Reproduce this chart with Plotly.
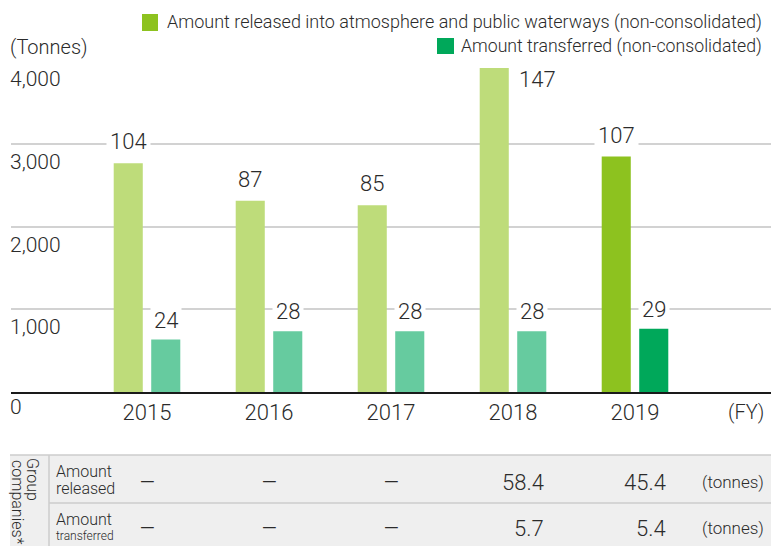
import plotly.graph_objects as go

# ---------------- data ----------------
years = ["2015", "2016", "2017", "2018", "2019"]
released_height = [2765, 2312, 2257, 3915, 2845]
transferred_height = [634, 735, 735, 735, 763]
released_labels = ["104", "87", "85", "147", "107"]
transferred_labels = ["24", "28", "28", "28", "29"]
y_ticks = [0, 1000, 2000, 3000, 4000]
y_tick_text = ["0", "1,000", "2,000", "3,000", "4,000"]
group_released = [None, None, None, "58.4", "45.4"]
group_transferred = [None, None, None, "5.7", "5.4"]

legend_released = "Amount released into atmosphere and public waterways (non-consolidated)"
legend_transferred = "Amount transferred (non-consolidated)"

# ---------------- style ----------------
W, H = 773, 546
L, R, T, B = 11, 771, 61, 392
FONT = "Roboto"
TXT = "#2b2b2b"
WT = 300
c_rel_old, c_rel_new = "#bedc7a", "#8dc21f"
c_tr_old, c_tr_new = "#66cb9f", "#00a85a"
rel_colors = [c_rel_old] * 4 + [c_rel_new]
tr_colors = [c_tr_old] * 4 + [c_tr_new]


def px(p):
    return (p - L) / (R - L)


def py(p):
    return (B - p) / (B - T)


def f(size):
    return dict(size=size, color=TXT, family=FONT, weight=WT)


fig = go.Figure()
fig.add_trace(go.Bar(x=years, y=released_height, marker=dict(color=rel_colors, line=dict(width=0)),
                     name=legend_released, hoverinfo="x+y"))
fig.add_trace(go.Bar(x=years, y=transferred_height, marker=dict(color=tr_colors, line=dict(width=0)),
                     name=legend_transferred, hoverinfo="x+y"))

ann = []
shapes = []

# bar value labels
slot = 0.3075
for i in range(len(years)):
    xr = i - slot / 2
    xt = i + slot / 2
    if released_height[i] > 3500:
        ann.append(dict(x=i + 0.2, y=released_height[i], xref="x", yref="y", text=released_labels[i],
                        showarrow=False, yanchor="top", yshift=4, font=f(22),
                        bgcolor="white", borderpad=2))
    else:
        ann.append(dict(x=xr, y=released_height[i], xref="x", yref="y", text=released_labels[i],
                        showarrow=False, yanchor="bottom", yshift=5, font=f(22),
                        bgcolor="white", borderpad=3))
    ann.append(dict(x=xt, y=transferred_height[i], xref="x", yref="y", text=transferred_labels[i],
                    showarrow=False, yanchor="bottom", yshift=3, font=f(22),
                    bgcolor="white", borderpad=3))

# y tick labels below gridlines
for v, t in zip(y_ticks, y_tick_text):
    ann.append(dict(x=0, y=v, xref="paper", yref="y", text=t, showarrow=False, xanchor="left",
                    yanchor="top", xshift=-3, yshift=-4 if v else -1, font=f(21)))

# unit / FY
ann.append(dict(x=px(8), y=py(47), xref="paper", yref="paper", text="(Tonnes)", showarrow=False,
                xanchor="left", yanchor="middle", font=f(20)))
ann.append(dict(x=px(766), y=py(412), xref="paper", yref="paper", text="(FY)", showarrow=False,
                xanchor="right", yanchor="middle", font=f(20)))

# legend
ann.append(dict(x=px(764), y=py(22), xref="paper", yref="paper", text=legend_released, showarrow=False,
                xanchor="right", yanchor="middle", font=f(18)))
ann.append(dict(x=px(764), y=py(46), xref="paper", yref="paper", text=legend_transferred, showarrow=False,
                xanchor="right", yanchor="middle", font=f(17.7)))
shapes.append(dict(type="rect", xref="paper", yref="paper", x0=px(142), x1=px(158), y0=py(31), y1=py(14),
                   fillcolor=c_rel_new, line=dict(width=0)))
shapes.append(dict(type="rect", xref="paper", yref="paper", x0=px(437), x1=px(454), y0=py(54), y1=py(38),
                   fillcolor=c_tr_new, line=dict(width=0)))

# table
shapes.append(dict(type="rect", xref="paper", yref="paper", x0=px(10), x1=px(771), y0=py(546), y1=py(455),
                   fillcolor="#efefef", line=dict(width=0), layer="below"))
shapes.append(dict(type="line", xref="paper", yref="paper", x0=px(10), x1=px(771), y0=py(455), y1=py(455),
                   line=dict(color="#cdcdcd", width=1.5)))
shapes.append(dict(type="line", xref="paper", yref="paper", x0=px(49), x1=px(771), y0=py(503), y1=py(503),
                   line=dict(color="#cdcdcd", width=1.5)))
shapes.append(dict(type="line", xref="paper", yref="paper", x0=px(49), x1=px(49), y0=py(455), y1=py(546),
                   line=dict(color="#cdcdcd", width=1.5)))

ann.append(dict(x=px(33), y=py(479), xref="paper", yref="paper", text="Group", textangle=90, showarrow=False,
                xanchor="center", yanchor="middle", font=f(16)))
ann.append(dict(x=px(18), y=py(502), xref="paper", yref="paper", text="companies*", textangle=90,
                showarrow=False, xanchor="center", yanchor="middle", font=f(16)))

row_lines = [("Amount", 471, 16), ("released", 488, 16), ("Amount", 519, 16), ("transferred", 536, 12)]
for t, yy, fs in row_lines:
    ann.append(dict(x=px(54), y=py(yy), xref="paper", yref="paper", text=t, showarrow=False,
                    xanchor="left", yanchor="middle", font=f(fs)))

for row, yy in ((group_released, 482), (group_transferred, 528)):
    for i, v in enumerate(row):
        if v is None:
            ann.append(dict(x=i, y=py(yy), xref="x", yref="paper", text="–", showarrow=False,
                            xanchor="center", yanchor="middle", font=f(26)))
        else:
            ann.append(dict(x=i + 0.27, y=py(yy), xref="x", yref="paper", text=v, showarrow=False,
                            xanchor="right", yanchor="middle", font=f(22)))
    ann.append(dict(x=px(766), y=py(yy), xref="paper", yref="paper", text="(tonnes)", showarrow=False,
                    xanchor="right", yanchor="middle", font=f(17)))

unit = (R - L) / 122.0
x0 = -(147 - L) / 122.0
fig.update_layout(
    width=W, height=H,
    margin=dict(l=L, r=W - R, t=T, b=H - B),
    paper_bgcolor="white", plot_bgcolor="white",
    barmode="group", bargap=0.385, bargroupgap=0.225,
    showlegend=False,
    font=dict(family=FONT, color=TXT),
    annotations=ann, shapes=shapes,
    xaxis=dict(type="category", range=[x0, x0 + unit], showgrid=False, zeroline=False,
               showline=True, linecolor="#1a1a1a", linewidth=2,
               ticks="outside", ticklen=0, tickcolor="rgba(0,0,0,0)",
               tickfont=f(22), fixedrange=True),
    yaxis=dict(range=[0, 4000], tickvals=y_ticks, showticklabels=False, showgrid=True,
               gridcolor="#d2d2d2", gridwidth=1.5, zeroline=False, fixedrange=True),
)

fig.write_html("out.html", config={"displayModeBar": False},
               post_script="document.body.style.margin='0';document.body.style.overflow='hidden';")
